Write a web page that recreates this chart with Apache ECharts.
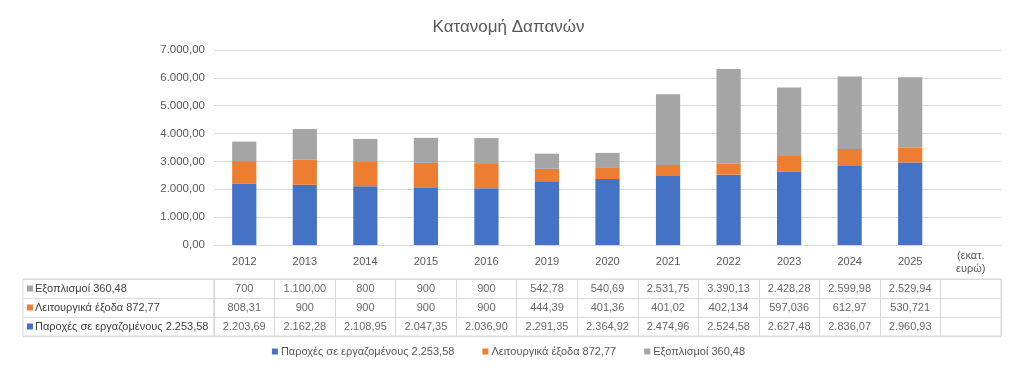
<!DOCTYPE html>
<html>
<head>
    <meta charset="utf-8">
    <script type="text/javascript" src="https://cdn.jsdelivr.net/npm/echarts@6/dist/echarts.min.js"></script>
    <style>
        body { margin: 0; background: #fff; }
    </style>
</head>
<body>
<div id="main" style="width:1017px;height:376px"></div>
<script type="text/javascript">
    // κατηγορίες (η τελευταία στήλη είναι μόνο η μονάδα μέτρησης)
    var years = ['2012', '2013', '2014', '2015', '2016', '2019', '2020', '2021', '2022', '2023', '2024', '2025', '(εκατ.\nευρώ)'];

    var seriesNames = ['Παροχές σε εργαζομένους 2.253,58', 'Λειτουργικά έξοδα 872,77', 'Εξοπλισμοί 360,48'];
    var seriesColors = ['#4472C4', '#ED7D31', '#A5A5A5'];

    // τιμές όπως φαίνονται στον πίνακα δεδομένων
    var paroxes = ['2.203,69', '2.162,28', '2.108,95', '2.047,35', '2.036,90', '2.291,35', '2.364,92', '2.474,96', '2.524,58', '2.627,48', '2.836,07', '2.960,93'];
    var leitourgika = ['808,31', '900', '900', '900', '900', '444,39', '401,36', '401,02', '402,134', '597,036', '612,97', '530,721'];
    var eksoplismoi = ['700', '1.100,00', '800', '900', '900', '542,78', '540,69', '2.531,75', '3.390,13', '2.428,28', '2.599,98', '2.529,94'];

    var yTicks = [0, 1000, 2000, 3000, 4000, 5000, 6000, 7000];

    function parseGr(s) {
        return parseFloat(s.replace(/\./g, '').replace(',', '.'));
    }

    function fmtGr(v) {
        var parts = v.toFixed(2).split('.');
        return parts[0].replace(/\B(?=(\d{3})+(?!\d))/g, '.') + ',' + parts[1];
    }

    var texts = [paroxes, leitourgika, eksoplismoi];
    var gridColor = '#d9d9d9';
    var font = 'Liberation Sans';

    var barSeries = texts.map(function (arr, i) {
        return {
            name: seriesNames[i],
            type: 'bar',
            stack: 'total',
            barWidth: '40%',
            xAxisIndex: 0,
            yAxisIndex: 0,
            itemStyle: {color: seriesColors[i]},
            data: arr.map(parseGr)
        };
    });

    // κελιά του πίνακα
    var cells = [];
    texts.forEach(function (arr, r) {
        arr.forEach(function (t, c) {
            cells.push([c, r, t]);
        });
    });

    var rich = {};
    seriesColors.forEach(function (c, i) {
        rich['s' + i] = {width: 6, height: 6, backgroundColor: c};
    });
    rich.t = {color: '#404040', fontSize: 11, fontFamily: font, padding: [0, 0, 0, 2]};

    var myChart = echarts.init(document.getElementById('main'));
    var option = {
        animation: false,
        backgroundColor: '#fff',
        title: {
            text: 'Κατανομή Δαπανών',
            left: 'center',
            top: 14,
            textStyle: {color: '#595959', fontSize: 17, fontWeight: 'normal', fontFamily: font}
        },
        legend: {
            data: seriesNames,
            bottom: 14,
            left: 'center',
            itemWidth: 6,
            itemHeight: 6,
            itemGap: 28,
            icon: 'rect',
            textStyle: {color: '#595959', fontSize: 11, fontFamily: font, padding: [0, 0, 0, -2]}
        },
        grid: [
            {left: 214, right: 16, top: 50, height: 195},
            {left: 214, right: 16, top: 279, height: 57, show: true, borderColor: gridColor, borderWidth: 1},
            {left: 23, width: 191, top: 279, height: 57, show: true, borderColor: gridColor, borderWidth: 1}
        ],
        xAxis: [
            {
                gridIndex: 0,
                type: 'category',
                data: years,
                axisLine: {lineStyle: {color: gridColor}},
                axisTick: {length: 34, lineStyle: {color: gridColor}},
                axisLabel: {
                    color: '#595959', fontSize: 11, fontFamily: font,
                    margin: 17, verticalAlign: 'middle', lineHeight: 13, interval: 0
                }
            },
            {
                gridIndex: 1,
                type: 'category',
                data: years,
                axisLine: {show: false},
                axisTick: {show: false},
                axisLabel: {show: false},
                splitLine: {show: true, interval: 0, lineStyle: {color: gridColor}}
            },
            {
                gridIndex: 2,
                type: 'category',
                data: [''],
                axisLine: {show: false},
                axisTick: {show: false},
                axisLabel: {show: false}
            }
        ],
        yAxis: [
            {
                gridIndex: 0,
                type: 'value',
                min: yTicks[0],
                max: yTicks[yTicks.length - 1],
                interval: 1000,
                axisLine: {show: false},
                axisTick: {show: false},
                splitLine: {lineStyle: {color: gridColor}},
                axisLabel: {
                    color: '#595959', fontSize: 11.5, fontFamily: font, margin: 9,
                    formatter: fmtGr
                }
            },
            {
                gridIndex: 1,
                type: 'category',
                data: seriesNames,
                axisLine: {show: false},
                axisTick: {show: false},
                axisLabel: {show: false},
                splitLine: {show: true, interval: 0, lineStyle: {color: gridColor}}
            },
            {
                gridIndex: 2,
                type: 'category',
                data: seriesNames,
                axisLine: {show: false},
                axisTick: {show: false},
                splitLine: {show: true, interval: 0, lineStyle: {color: gridColor}},
                axisLabel: {
                    inside: true,
                    margin: 4,
                    formatter: function (v, i) {
                        return '{s' + i + '|}{t|' + v + '}';
                    },
                    rich: rich
                }
            }
        ],
        series: barSeries.concat([{
            type: 'scatter',
            xAxisIndex: 1,
            yAxisIndex: 1,
            symbolSize: 0,
            silent: true,
            data: cells,
            label: {
                show: true,
                position: 'inside',
                color: '#404040',
                fontSize: 11,
                fontFamily: font,
                formatter: function (p) {
                    return p.value[2];
                }
            }
        }])
    };
    myChart.setOption(option);
</script>
</body>
</html>
